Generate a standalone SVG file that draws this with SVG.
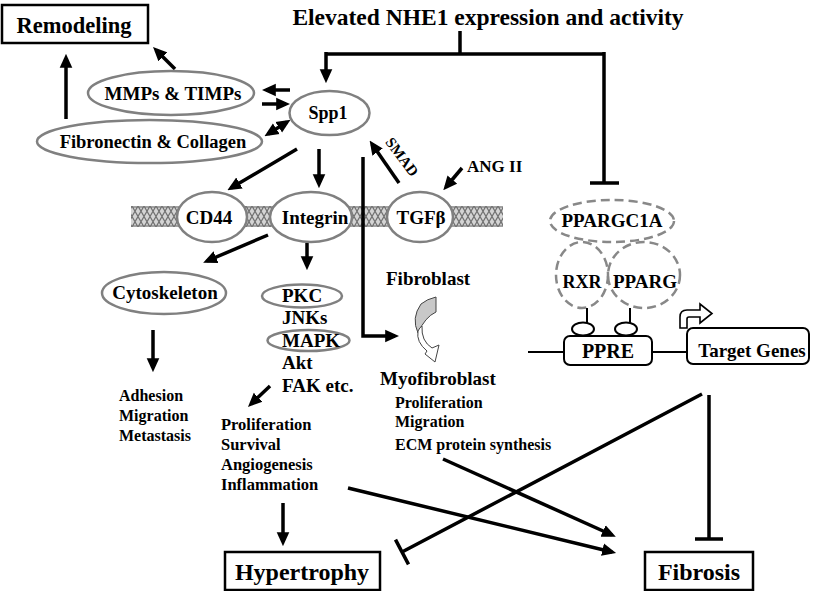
<svg xmlns="http://www.w3.org/2000/svg" width="815" height="591" viewBox="0 0 815 591">
<defs>
<style>
text{font-family:"Liberation Serif","Times New Roman",serif;font-weight:bold;fill:#000}
.c{text-anchor:middle}
.ell{fill:#fff;stroke:#808080;stroke-width:2.5}
.dash{fill:none;stroke:#888;stroke-width:2.5;stroke-dasharray:9 5}
.box{fill:#fff;stroke:#000;stroke-width:2.5}
.rbox{fill:#fff;stroke:#000;stroke-width:2}
.ln{fill:none;stroke:#000;stroke-width:3.5}
.ar{fill:none;stroke:#000;stroke-width:3.5;marker-end:url(#ah)}
.ar2{fill:none;stroke:#000;stroke-width:3.5;marker-end:url(#ah);marker-start:url(#ah)}
</style>
<marker id="ah" viewBox="0 0 10 10" refX="7" refY="5" markerWidth="14" markerHeight="14" markerUnits="userSpaceOnUse" orient="auto-start-reverse">
<path d="M0,0.5 L10,5 L0,9.5 z" fill="#000"/>
</marker>
<pattern id="mem" x="0" y="206" width="6" height="21" patternUnits="userSpaceOnUse">
<rect width="6" height="21" fill="#d4d4d4"/>
<path d="M0,0 L6,10.5 L0,21 M6,0 L0,10.5 L6,21 M0,1 H6 M0,20 H6" stroke="#707070" stroke-width="1.2" fill="none"/>
</pattern>
</defs>
<rect width="815" height="591" fill="#fff"/>

<!-- membrane -->
<rect x="131" y="206" width="372" height="21" fill="url(#mem)"/>

<!-- connectors -->
<g id="connectors">
<path class="ln" d="M460,31 V54"/>
<path class="ln" d="M604,54 H326"/>
<path class="ar" d="M326,52 V79"/>
<path class="ln" d="M604,52 V183 M590,183 H619"/>
<path class="ar" d="M175,69 L156,50"/>
<path class="ar" d="M66,119 V58"/>
<path class="ar" d="M290,90 H266"/>
<path class="ar" d="M262,104 H286"/>
<path class="ar2" d="M268,134 L287,122"/>
<path class="ar" d="M297,149 L231,188"/>
<path class="ar" d="M319,149 V184"/>
<path class="ar" d="M363,157 V336 H395"/>
<path class="ar" d="M399,183 L372,144"/>
<path class="ar" d="M462,168 L446,187"/>
<path class="ar" d="M268,235 L207,261"/>
<path class="ar" d="M307,243 V266"/>
<path class="ar" d="M153,330 V368"/>
<path class="ar" d="M270,386 L251,404"/>
<path class="ar" d="M283,503 V542"/>
<path class="ar" d="M348,488 L612,552"/>
<path class="ar" d="M443,459 L612,535"/>
<path class="ln" d="M702,394 L402,552 M395.5,539.6 L408.5,564.4"/>
<path class="ln" d="M709,395 V539 M695,539 H723"/>
</g>

<!-- title -->
<g id="title"><text class="c" x="488" y="25" font-size="23.5">Elevated NHE1 expression and activity</text></g>

<g id="remodeling">
<rect class="box" x="2" y="5" width="146" height="38"/>
<text class="c" x="74" y="33" font-size="22.5">Remodeling</text>
</g>

<g id="mmps">
<ellipse class="ell" cx="171" cy="93" rx="83" ry="22"/>
<text class="c" x="173" y="100" font-size="19">MMPs &amp; TIMPs</text>
</g>

<g id="fibronectin">
<ellipse class="ell" cx="149.5" cy="141.5" rx="112.5" ry="21.5"/>
<text class="c" x="153" y="148" font-size="18.5">Fibronectin &amp; Collagen</text>
</g>

<g id="spp1">
<ellipse class="ell" cx="329.5" cy="113" rx="40" ry="22"/>
<text class="c" x="328" y="119" font-size="18">Spp1</text>
</g>

<g id="cd44">
<ellipse class="ell" cx="212" cy="217" rx="35" ry="25"/>
<text class="c" x="209" y="224" font-size="19">CD44</text>
</g>

<g id="integrin">
<ellipse class="ell" cx="311" cy="217" rx="41" ry="25"/>
<text class="c" x="315" y="224" font-size="19">Integrin</text>
</g>

<g id="tgfb">
<ellipse class="ell" cx="420" cy="217" rx="33" ry="25"/>
<text class="c" x="421" y="224" font-size="19">TGFβ</text>
</g>

<g id="smad"><text class="c" x="402" y="162" font-size="15" transform="rotate(53 402 157)">SMAD</text></g>

<g id="angii"><text x="467" y="172" font-size="17">ANG II</text></g>

<g id="cytoskeleton">
<ellipse class="ell" cx="164" cy="293" rx="62" ry="21"/>
<text class="c" x="165" y="299" font-size="19">Cytoskeleton</text>
</g>

<g id="kinases">
<ellipse class="ell" cx="302" cy="296" rx="40" ry="11.5"/>
<text x="282" y="302" font-size="19">PKC</text>
<text x="282" y="324" font-size="19">JNKs</text>
<ellipse class="ell" cx="308.5" cy="340.5" rx="41" ry="10.5"/>
<text x="282" y="347" font-size="19">MAPK</text>
<text x="282" y="369" font-size="19">Akt</text>
<text x="282" y="392" font-size="19">FAK etc.</text>
</g>

<g id="adhesion">
<text x="119" y="401" font-size="16">Adhesion</text>
<text x="119" y="421" font-size="16">Migration</text>
<text x="119" y="441" font-size="16">Metastasis</text>
</g>

<g id="prolif">
<text x="221" y="430" font-size="16.5">Proliferation</text>
<text x="221" y="450" font-size="16.5">Survival</text>
<text x="221" y="470" font-size="16.5">Angiogenesis</text>
<text x="221" y="490" font-size="16.5">Inflammation</text>
</g>

<g id="fibroblast">
<text x="386" y="285" font-size="19">Fibroblast</text>
<path d="M421,304 Q427,299 436,297 L436,312 Q425,317 418,333 Q411,318 421,304 Z" fill="#c8c8c8" stroke="#444" stroke-width="1"/>
<path d="M418,331 Q416,342 427,351 L425,354 L435,362 L439,345 L432,348 Q421,341 422,326 Q420,327 418,331 Z" fill="#fff" stroke="#444" stroke-width="1"/>
</g>

<g id="myofibroblast">
<text x="380" y="385" font-size="19">Myofibroblast</text>
<text x="395" y="408" font-size="16">Proliferation</text>
<text x="395" y="427" font-size="16">Migration</text>
<text x="395" y="450" font-size="16">ECM protein synthesis</text>
</g>

<g id="ppargc1a">
<ellipse class="dash" cx="612" cy="221" rx="62" ry="21"/>
<text class="c" x="612" y="227" font-size="19">PPARGC1A</text>
</g>

<g id="rxr">
<ellipse class="dash" cx="582" cy="275" rx="26" ry="33"/>
<text class="c" x="582" y="288" font-size="18">RXR</text>
</g>

<g id="pparg">
<ellipse class="dash" cx="644" cy="275" rx="36" ry="33"/>
<text class="c" x="645" y="288" font-size="19">PPARG</text>
</g>

<g id="ppre">
<path d="M528,352 H564 M652,352 H687" stroke="#000" stroke-width="2" fill="none"/>
<path d="M587,308 V323 M630,308 V323" stroke="#000" stroke-width="2" fill="none"/>
<ellipse cx="583" cy="329" rx="11" ry="6.5" fill="#fff" stroke="#000" stroke-width="2"/>
<ellipse cx="626" cy="329" rx="11" ry="6.5" fill="#fff" stroke="#000" stroke-width="2"/>
<rect class="rbox" x="564" y="336" width="88" height="29" rx="6"/>
<text class="c" x="608" y="358" font-size="20">PPRE</text>
</g>

<g id="targetgenes">
<path d="M680,328 V317 Q680,310 687,310 H700 V304 L712,313.5 L700,323 V317 H689 Q687,317 687,319 V328 Z" fill="#fff" stroke="#000" stroke-width="1.6"/>
<rect class="rbox" x="687" y="328" width="122" height="36" rx="6"/>
<text class="c" x="752" y="357" font-size="19">Target Genes</text>
</g>

<g id="hypertrophy">
<rect class="box" x="225" y="552" width="155" height="38"/>
<text class="c" x="302" y="580" font-size="24">Hypertrophy</text>
</g>

<g id="fibrosis">
<rect class="box" x="645" y="552" width="108" height="38"/>
<text class="c" x="699" y="580" font-size="24">Fibrosis</text>
</g>
</svg>
